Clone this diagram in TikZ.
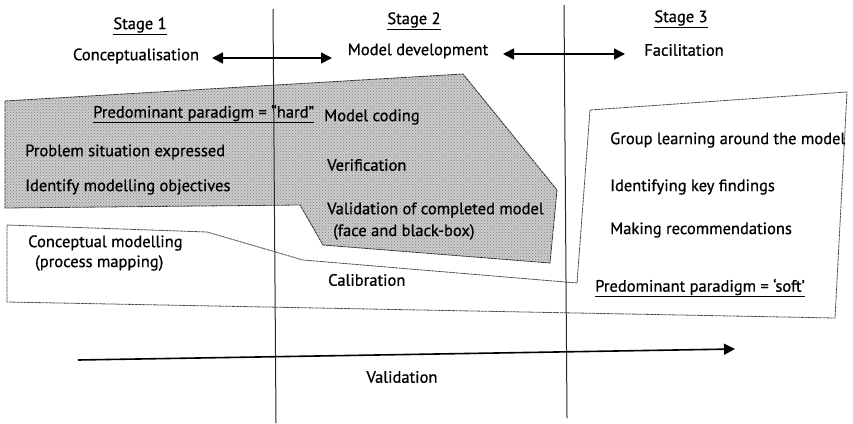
\documentclass[tikz,border=0pt]{standalone}
\usepackage{fontspec}
\setmainfont{PT Sans}[BoldFont={PT Sans}, BoldFeatures={FakeBold=0.7}]
\usetikzlibrary{arrows.meta,patterns}

\begin{document}
\begin{tikzpicture}[x=1pt,y=-1pt,
  txt/.style={font=\fontsize{16.5}{18}\selectfont\bfseries, inner sep=0pt, anchor=west},
  ctxt/.style={font=\fontsize{16.5}{18}\selectfont\bfseries, inner sep=0pt},
  stageline/.style={line width=1pt, black!85},
  twohead/.style={line width=1.6pt, {Triangle[length=11pt,width=11pt]}-{Triangle[length=11pt,width=11pt]}},
  onehead/.style={line width=1.6pt, -{Triangle[length=11pt,width=11pt]}},
  sketchy/.style={line width=0.8pt, black!70, dash pattern=on 3pt off 0.6pt},
  hardzone/.style={sketchy, black!80, preaction={fill=black!20}, pattern=crosshatch dots, pattern color=black!50}
]
\useasboundingbox (0,0) rectangle (853,423);

% white outline around conceptual modelling, calibration and facilitation
\draw[sketchy] (7,225) -- (207,232) -- (303,260) -- (577,283) -- (590,110)
  -- (847,92) -- (835,318) -- (7,302) -- cycle;

% shaded "hard" zone
\draw[hardzone] (5,101) -- (463,74) -- (557,190) -- (550,263) -- (323,245)
  -- (300,205) -- (5,208) -- cycle;

% stage boundaries
\coordinate (b1top) at (273,9);
\coordinate (b1bot) at (276,423);
\coordinate (b2top) at (564,5);
\coordinate (b2bot) at (567,418);
\draw[stageline] (b1top) -- (b1bot);
\draw[stageline] (b2top) -- (b2bot);

% stage headings
\node[ctxt] (s1) at (140,26) {\underline{Stage 1}};
\node[ctxt] (s2) at (414,21) {\underline{Stage 2}};
\node[ctxt] (s3) at (681,19) {\underline{Stage 3}};
\node[ctxt] (c1) at (136,56) {Conceptualisation};
\node[ctxt] (c2) at (418,51) {Model development};
\node[ctxt] (c3) at (684,50) {Facilitation};

\coordinate (a1l) at (212,58);
\coordinate (a1r) at (332,58);
\coordinate (a2l) at (503,54);
\coordinate (a2r) at (625,54);
\draw[twohead] (a1l) -- (a1r);
\draw[twohead] (a2l) -- (a2r);

% hard zone texts
\node[txt] (hard) at (93,114) {\underline{Predominant paradigm = “hard”}};
\node[txt] (mcod) at (324,117) {Model coding};
\node[txt] (prob) at (25,152) {Problem situation expressed};
\node[txt] (veri) at (327,165) {Verification};
\node[txt] (iden) at (25,187) {Identify modelling objectives};
\node[txt] (vali) at (327,210) {Validation of completed model};
\node[txt] (face) at (333,232) {(face and black-box)};

% lower texts
\node[txt] (conc) at (28,243) {Conceptual modelling};
\node[txt] (proc) at (35,263) {(process mapping)};
\node[txt] (cali) at (328,280) {Calibration};

% facilitation texts
\node[txt] (grp) at (610,140) {Group learning around the model};
\node[txt] (key) at (610,187) {Identifying key findings};
\node[txt] (rec) at (610,230) {Making recommendations};
\node[txt] (soft) at (595,288) {\underline{Predominant paradigm = ‘soft’}};

% validation arrow
\coordinate (vl) at (78,360);
\coordinate (vr) at (735,349);
\draw[onehead] (vl) -- (vr);
\node[ctxt] (valid) at (402,377) {Validation};
\end{tikzpicture}
\end{document}
